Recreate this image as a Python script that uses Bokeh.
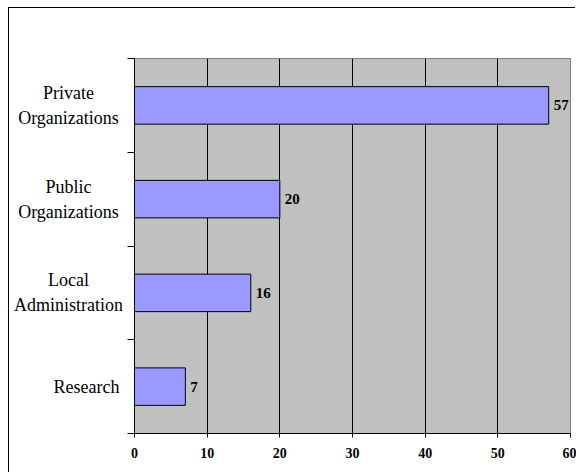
from bokeh.plotting import figure
from bokeh.layouts import row
from bokeh.models import ColumnDataSource, LabelSet, FixedTicker, Range1d
from bokeh.core.properties import value
from bokeh.embed import file_html
from bokeh.resources import INLINE

categories = ["Private\nOrganizations", "Public\nOrganizations", "Local\nAdministration", "Research"]
values = [57, 20, 16, 7]
x_ticks = [0, 10, 20, 30, 40, 50, 60]

n = len(categories)
ypos = [n - i - 0.5 for i in range(n)]

SERIF = "Liberation Serif"
LABEL_W = 122          # width of the category-label strip (px)
LABEL_RIGHT = 119      # right edge of the category text blocks (px)
MULTI_CENTER = 68      # centre of the wrapped (two-line) text blocks (px)

src = ColumnDataSource(dict(y=ypos, v=values, label=[str(v) for v in values]))
multi = [i for i, c in enumerate(categories) if "\n" in c]
single = [i for i, c in enumerate(categories) if "\n" not in c]
src_multi = ColumnDataSource(dict(y=[ypos[i] for i in multi], cat=[categories[i] for i in multi],
                                  x=[MULTI_CENTER] * len(multi)))
src_single = ColumnDataSource(dict(y=[ypos[i] for i in single], cat=[categories[i] for i in single],
                                   x=[LABEL_RIGHT] * len(single)))

yr = Range1d(0, n)

# ---- category label strip ----
pl = figure(width=LABEL_W, height=473, output_backend="svg", toolbar_location=None,
            x_range=Range1d(0, LABEL_W), y_range=yr,
            x_axis_location=None, y_axis_location=None,
            min_border_left=0, min_border_right=0, min_border_top=58, min_border_bottom=40)
pl.outline_line_color = None
pl.background_fill_color = "white"
pl.border_fill_color = "white"
pl.grid.visible = False
pl.text(x="x", y="y", text="cat", source=src_multi, text_align="center", text_baseline="middle",
        text_font=value(SERIF), text_font_size=value("18px"), text_line_height=1.25,
        text_color="black")
pl.text(x="x", y="y", text="cat", source=src_single, text_align="right", text_baseline="middle",
        text_font=value(SERIF), text_font_size=value("18px"), text_color="black")

# ---- chart ----
p = figure(width=576 - LABEL_W, height=473, output_backend="svg", toolbar_location=None,
           x_range=Range1d(0, 60), y_range=yr,
           min_border_left=134 - LABEL_W, min_border_right=6, min_border_top=58, min_border_bottom=40)

p.background_fill_color = "#C0C0C0"
p.border_fill_color = "white"
p.outline_line_color = "#808080"
p.outline_line_width = 1

p.xgrid.ticker = FixedTicker(ticks=x_ticks)
p.xgrid.grid_line_color = "black"
p.xgrid.grid_line_width = 1
p.ygrid.visible = False

p.hbar(y="y", right="v", left=0, height=0.4, source=src,
       fill_color="#9999FF", line_color="black", line_width=1)

p.add_layout(LabelSet(x="v", y="y", text="label", source=src, x_offset=5,
                      text_baseline="middle", text_align="left",
                      text_font=value(SERIF), text_font_style="bold",
                      text_font_size="15px", text_color="black"))

# x axis
p.xaxis.ticker = FixedTicker(ticks=x_ticks)
p.xaxis.major_tick_out = 4
p.xaxis.major_tick_in = 0
p.xaxis.minor_tick_line_color = None
p.xaxis.major_label_text_font = SERIF
p.xaxis.major_label_text_font_style = "bold"
p.xaxis.major_label_text_font_size = "14px"
p.xaxis.major_label_text_color = "black"
p.xaxis.major_label_standoff = 10
p.xaxis.axis_line_color = "black"
p.xaxis.major_tick_line_color = "black"

# y axis: only tick marks at the band boundaries
p.yaxis.ticker = FixedTicker(ticks=[], minor_ticks=list(range(n + 1)))
p.yaxis.major_tick_out = 0
p.yaxis.major_tick_in = 0
p.yaxis.minor_tick_out = 7
p.yaxis.minor_tick_in = 0
p.yaxis.minor_tick_line_color = "black"
p.yaxis.major_label_standoff = 0
p.yaxis.axis_line_color = "black"

layout = row(pl, p, spacing=0)
# outer chart-area frame (top and left edges visible in the window)
layout.stylesheets = [":host::after { content: ''; position: absolute; left: 8px; top: 7px; "
                      "width: 566px; height: 464px; border-left: 1.5px solid black; "
                      "border-top: 1.5px solid black; pointer-events: none; z-index: 5; }"]

open("out.html", "w").write(file_html(layout, INLINE))
